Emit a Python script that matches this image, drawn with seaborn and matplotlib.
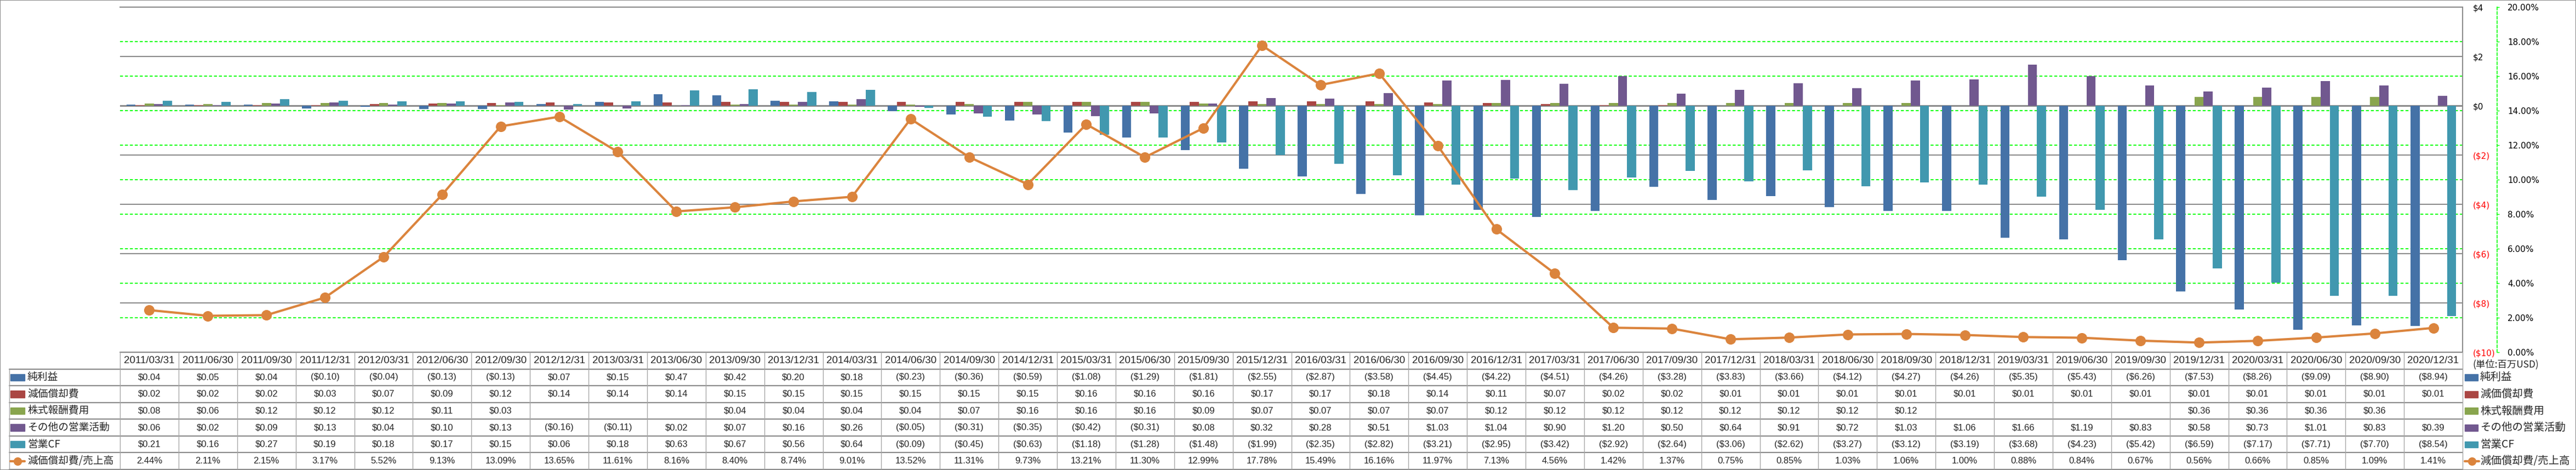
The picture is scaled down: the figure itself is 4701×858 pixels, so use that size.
import matplotlib
matplotlib.use("Agg")
import matplotlib.pyplot as plt
import matplotlib.transforms as mtransforms
from matplotlib.patches import Rectangle
from matplotlib.ticker import FuncFormatter, PercentFormatter
import seaborn as sns
import pandas as pd
import numpy as np

# ---- データ（単位: 百万USD） ----
dates = [
    "2011/03/31", "2011/06/30", "2011/09/30", "2011/12/31",
    "2012/03/31", "2012/06/30", "2012/09/30", "2012/12/31",
    "2013/03/31", "2013/06/30", "2013/09/30", "2013/12/31",
    "2014/03/31", "2014/06/30", "2014/09/30", "2014/12/31",
    "2015/03/31", "2015/06/30", "2015/09/30", "2015/12/31",
    "2016/03/31", "2016/06/30", "2016/09/30", "2016/12/31",
    "2017/03/31", "2017/06/30", "2017/09/30", "2017/12/31",
    "2018/03/31", "2018/06/30", "2018/09/30", "2018/12/31",
    "2019/03/31", "2019/06/30", "2019/09/30", "2019/12/31",
    "2020/03/31", "2020/06/30", "2020/09/30", "2020/12/31",
]
net_income = [0.04, 0.05, 0.04, -0.10, -0.04, -0.13, -0.13, 0.07, 0.15, 0.47,
              0.42, 0.20, 0.18, -0.23, -0.36, -0.59, -1.08, -1.29, -1.81, -2.55,
              -2.87, -3.58, -4.45, -4.22, -4.51, -4.26, -3.28, -3.83, -3.66, -4.12,
              -4.27, -4.26, -5.35, -5.43, -6.26, -7.53, -8.26, -9.09, -8.90, -8.94]
depreciation = [0.02, 0.02, 0.02, 0.03, 0.07, 0.09, 0.12, 0.14, 0.14, 0.14,
                0.15, 0.15, 0.15, 0.15, 0.15, 0.15, 0.16, 0.16, 0.16, 0.17,
                0.17, 0.18, 0.14, 0.11, 0.07, 0.02, 0.02, 0.01, 0.01, 0.01,
                0.01, 0.01, 0.01, 0.01, 0.01, 0.01, 0.01, 0.01, 0.01, 0.01]
stock_comp = [0.08, 0.06, 0.12, 0.12, 0.12, 0.11, 0.03, None, None, None,
              0.04, 0.04, 0.04, 0.04, 0.07, 0.16, 0.16, 0.16, 0.09, 0.07,
              0.07, 0.07, 0.07, 0.12, 0.12, 0.12, 0.12, 0.12, 0.12, 0.12,
              0.12, None, None, None, None, 0.36, 0.36, 0.36, 0.36, None]
other_ops = [0.06, 0.02, 0.09, 0.13, 0.04, 0.10, 0.13, -0.16, -0.11, 0.02,
             0.07, 0.16, 0.26, -0.05, -0.31, -0.35, -0.42, -0.31, 0.08, 0.32,
             0.28, 0.51, 1.03, 1.04, 0.90, 1.20, 0.50, 0.64, 0.91, 0.72,
             1.03, 1.06, 1.66, 1.19, 0.83, 0.58, 0.73, 1.01, 0.83, 0.39]
op_cf = [0.21, 0.16, 0.27, 0.19, 0.18, 0.17, 0.15, 0.06, 0.18, 0.63,
         0.67, 0.56, 0.64, -0.09, -0.45, -0.63, -1.18, -1.28, -1.48, -1.99,
         -2.35, -2.82, -3.21, -2.95, -3.42, -2.92, -2.64, -3.06, -2.62, -3.27,
         -3.12, -3.19, -3.68, -4.23, -5.42, -6.59, -7.17, -7.71, -7.70, -8.54]
dep_ratio = [2.44, 2.11, 2.15, 3.17, 5.52, 9.13, 13.09, 13.65, 11.61, 8.16,
             8.40, 8.74, 9.01, 13.52, 11.31, 9.73, 13.21, 11.30, 12.99, 17.78,
             15.49, 16.16, 11.97, 7.13, 4.56, 1.42, 1.37, 0.75, 0.85, 1.03,
             1.06, 1.00, 0.88, 0.84, 0.67, 0.56, 0.66, 0.85, 1.09, 1.41]

series_names = ["純利益", "減価償却費", "株式報酬費用", "その他の営業活動", "営業CF"]
ratio_name = "減価償却費/売上高"
palette = {"純利益": "#4572A7", "減価償却費": "#AA4643", "株式報酬費用": "#89A54E",
           "その他の営業活動": "#71588F", "営業CF": "#4198AF"}
line_color = "#DB843D"

# ---- レイアウト（ピクセル） ----
W, H = 4701, 858
plot_l, plot_r, plot_t, plot_b, tab_b = 219, 4494, 13, 643, 857
n = len(dates)
cw = (plot_r - plot_l) / n
grid_gray = "#878787"
border_gray = "#8c8c8c"
green = "#00FF00"
cjk = ["Noto Sans CJK JP", "DejaVu Sans"]
latin = ["Liberation Sans", "DejaVu Sans"]

sns.set_theme(style="white")
plt.rcParams["font.family"] = ["DejaVu Sans", "Noto Sans CJK JP"]

fig = plt.figure(figsize=(W / 100, H / 100), dpi=100)
ax = fig.add_axes([plot_l / W, (H - plot_b) / H, (plot_r - plot_l) / W, (plot_b - plot_t) / H])
ax2 = ax.twinx()

# 棒グラフ
values = {"純利益": net_income, "減価償却費": depreciation, "株式報酬費用": stock_comp,
          "その他の営業活動": other_ops, "営業CF": op_cf}
df = pd.DataFrame({"date": dates, **values}).melt(id_vars="date", var_name="series", value_name="value")
df["value"] = df["value"].astype(float)
sns.barplot(data=df, x="date", y="value", hue="series", order=dates, hue_order=series_names,
            palette=palette, width=0.78, saturation=1, errorbar=None, legend=False,
            ax=ax, zorder=3, linewidth=0)

ax.set_xlim(-0.5, n - 0.5)
ax.set_ylim(-10, 4)
ax.set_xlabel("")
ax.set_ylabel("")
ax.tick_params(axis="x", bottom=False, labelbottom=False)
ax.set_yticks(range(-10, 5, 2))
ax.yaxis.set_major_formatter(FuncFormatter(lambda v, _: f"${v:.0f}" if v >= 0 else f"(${-v:.0f})"))
ax.tick_params(axis="y", left=False, labelleft=False, right=False, labelright=True,
               length=0, pad=13.5, labelsize=11)
for lab, v in zip(ax.get_yticklabels(), range(-10, 5, 2)):
    lab.set_color("red" if v < 0 else "black")
ax.yaxis.grid(True, color=grid_gray, lw=1.4, zorder=0)
ax.set_axisbelow(True)
ax.axhline(0, color="#808080", lw=1.8, zorder=2)
for s in ["left", "bottom"]:
    ax.spines[s].set_visible(False)
for s in ["top", "right"]:
    ax.spines[s].set_color(grid_gray)
    ax.spines[s].set_linewidth(1.4)

# 折れ線（右軸 %）
sns.lineplot(x=np.arange(n), y=dep_ratio, ax=ax2, color=line_color, lw=3,
             marker="o", markersize=13, markeredgecolor=line_color, zorder=5)
ax2.set_ylim(0, 20)
ax2.set_xlim(-0.5, n - 0.5)
ax2.set_yticks(np.arange(0, 21, 2))
ax2.yaxis.set_major_formatter(PercentFormatter(xmax=100, decimals=2))
ax2.tick_params(axis="y", length=3, width=1, color=green, labelcolor="black", pad=11, labelsize=11)
for s in ["left", "top", "bottom"]:
    ax2.spines[s].set_visible(False)
ax2.spines["right"].set_position(("outward", 45))
ax2.spines["right"].set_color(green)
ax2.spines["right"].set_linestyle((0, (3, 2)))
ax2.spines["right"].set_linewidth(1.2)
ax2.set_ylabel("")

# %軸のグリッド（棒の下）
trans = mtransforms.blended_transform_factory(ax.transAxes, ax2.transData)
for p in range(2, 20, 2):
    ax.plot([0, 1], [p, p], transform=trans, color=green, lw=1.3, ls=(0, (3, 2)), zorder=1)

# ---- データテーブル ----
axt = fig.add_axes([plot_l / W, (H - tab_b) / H, (plot_r - plot_l) / W, (tab_b - plot_b) / H])
axt.set_xlim(-0.5, n - 0.5)
axt.set_ylim(7, 0)
axt.axis("off")

lab_x0 = -0.5 - (plot_l - 17) / cw
axt.plot([-0.5, n - 0.5], [0, 0], color=border_gray, lw=1.6, clip_on=False)
for r in range(1, 8):
    axt.plot([lab_x0, n - 0.5], [r, r], color=border_gray, lw=1.6, clip_on=False)
for i in range(n + 1):
    axt.plot([i - 0.5, i - 0.5], [0, 7], color="#a6a6a6", lw=1, clip_on=False)
axt.plot([lab_x0, lab_x0], [1, 7], color="#a6a6a6", lw=1, clip_on=False)

for i, d in enumerate(dates):
    axt.text(i, 0.5, d, ha="center", va="center", fontsize=13.5, family=latin)


def money(v):
    if v is None:
        return ""
    return f"${v:.2f}" if v >= 0 else f"(${-v:.2f})"


rows = [(name, values[name]) for name in series_names]
key_w = 26 / cw
for r, (name, vals) in enumerate(rows, start=1):
    for i, v in enumerate(vals):
        axt.text(i, r + 0.5, money(v), ha="center", va="center", fontsize=12, family=latin)
    # 左のラベル
    axt.add_patch(Rectangle((lab_x0 + 2 / cw, r + 0.3), key_w, 0.4, color=palette[name], clip_on=False))
    axt.text(lab_x0 + 33 / cw, r + 0.5, name, ha="left", va="center", fontsize=13.5, family=cjk)
    # 右の凡例
    axt.add_patch(Rectangle((n - 0.5 + 4 / cw, r + 0.32), 24 / cw, 0.38, color=palette[name], clip_on=False))
    axt.text(n - 0.5 + 32 / cw, r + 0.5, name, ha="left", va="center", fontsize=14, family=cjk)

r = 6
for i, v in enumerate(dep_ratio):
    axt.text(i, r + 0.5, f"{v:.2f}%", ha="center", va="center", fontsize=12, family=latin)
for x0 in [lab_x0 + 2 / cw, n - 0.5 + 4 / cw]:
    axt.plot([x0, x0 + key_w], [r + 0.5, r + 0.5], color=line_color, lw=3, clip_on=False)
    axt.plot([x0 + key_w / 2], [r + 0.5], marker="o", ms=10, color=line_color, clip_on=False)
axt.text(lab_x0 + 33 / cw, r + 0.5, ratio_name, ha="left", va="center", fontsize=13.5, family=cjk)
axt.text(n - 0.5 + 32 / cw, r + 0.5, ratio_name, ha="left", va="center", fontsize=14, family=cjk)

axt.text(n - 0.5 + 18 / cw, 0.72, "(単位:百万USD)", ha="left", va="center", fontsize=12.5, family=cjk)

fig.add_artist(Rectangle((0, 0), 1, 1, transform=fig.transFigure, fill=False, ec=border_gray, lw=1.5))

fig.savefig("out.png", dpi=100)
plt.close(fig)
